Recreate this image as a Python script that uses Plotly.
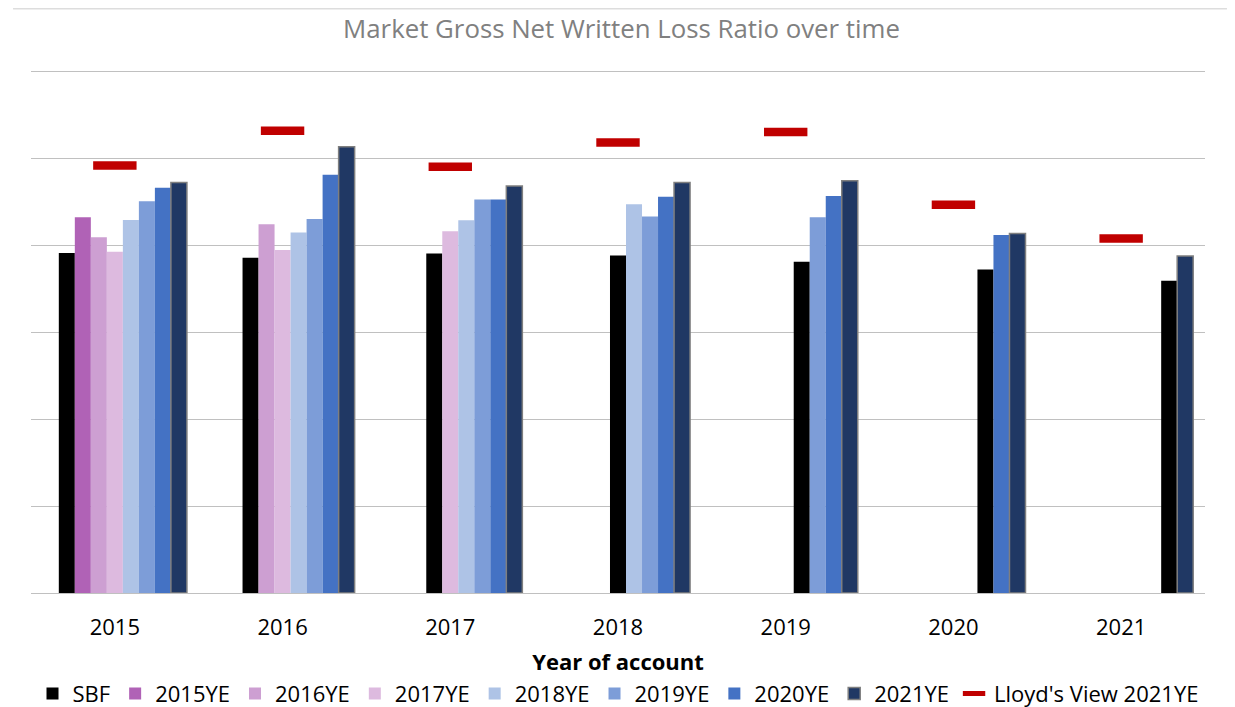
import plotly.graph_objects as go

years = ["2015", "2016", "2017", "2018", "2019", "2020", "2021"]

sbf = [78.2, 77.1, 78.1, 77.6, 76.2, 74.4, 71.8]
ye_2015 = [86.4, None, None, None, None, None, None]
ye_2016 = [81.8, 84.8, None, None, None, None, None]
ye_2017 = [78.5, 78.9, 83.2, None, None, None, None]
ye_2018 = [85.8, 82.9, 85.7, 89.4, None, None, None]
ye_2019 = [90.1, 86.0, 90.5, 86.6, 86.4, None, None]
ye_2020 = [93.2, 96.2, 90.5, 91.1, 91.3, 82.3, None]
ye_2021 = [94.4, 102.6, 93.6, 94.4, 94.8, 82.7, 77.5]
lloyds_view_2021 = [98.3, 106.3, 98.0, 103.6, 106.0, 89.3, 81.5]

ye_series = [
    ("2015YE", 2015, ye_2015, "#B062B6"),
    ("2016YE", 2016, ye_2016, "#CD9FD2"),
    ("2017YE", 2017, ye_2017, "#DDBADF"),
    ("2018YE", 2018, ye_2018, "#AEC3E6"),
    ("2019YE", 2019, ye_2019, "#7D9DD8"),
    ("2020YE", 2020, ye_2020, "#4472C4"),
    ("2021YE", 2021, ye_2021, "#203864"),
]

FONT = "Open Sans"
n_slots = 9
group_frac = 0.8593
w = group_frac / n_slots


def slot_offset(slot):
    return -n_slots / 2 * w + slot * w


fig = go.Figure()

# SBF sits in the slot just before the first year-end of its year of account
sbf_offsets = [slot_offset(int(y) - 2014) for y in years]
fig.add_trace(go.Bar(
    x=years, y=sbf, name="SBF", width=w, offset=sbf_offsets,
    marker=dict(color="#000000", line=dict(width=0)),
))

for name, yr, vals, col in ye_series:
    line = dict(width=1.5, color="#7F7F7F") if yr == 2021 else dict(width=0)
    fig.add_trace(go.Bar(
        x=years, y=vals, name=name, width=w, offset=slot_offset(yr - 2013),
        marker=dict(color=col, line=line),
    ))

fig.add_trace(go.Scatter(
    x=years, y=lloyds_view_2021, name="Lloyd's View 2021YE", mode="markers",
    marker=dict(symbol="line-ew", size=31, color="#C00000",
                line=dict(width=8.5, color="#C00000")),
))

# the page body adds an 8px margin, so the figure is 8px smaller than the window
fig.update_layout(
    width=1227, height=699,
    barmode="overlay",
    paper_bgcolor="white", plot_bgcolor="white",
    margin=dict(l=23, r=30, t=61, b=114, autoexpand=False),
    font=dict(family=FONT, size=22, color="#000000"),
    title=dict(text="Market Gross Net Written Loss Ratio over time",
               x=0.5, xanchor="center", y=0.97, yanchor="middle",
               font=dict(family=FONT, size=25.8, color="#808080")),
    xaxis=dict(type="category", showgrid=False, showline=False, ticks="",
               tickfont=dict(size=22, color="#000000"), ticklabelstandoff=19,
               automargin=False,
               title=dict(text="<b>Year of account</b>", standoff=14,
                          font=dict(size=22, color="#000000"))),
    yaxis=dict(range=[0, 120.5], tickvals=[20, 40, 60, 80, 100, 120],
               showticklabels=False, ticks="",
               showgrid=True, gridcolor="#C0C0C0", gridwidth=1.3,
               zeroline=True, zerolinecolor="#C0C0C0", zerolinewidth=1.3,
               showline=False, automargin=False),
    legend=dict(orientation="h", x=0.5, xanchor="center", y=-0.152, yanchor="top",
                font=dict(size=22, color="#000000"), itemwidth=30,
                traceorder="normal", bgcolor="rgba(0,0,0,0)"),
    shapes=[dict(type="line", xref="paper", yref="paper",
                 x0=-0.0153, x1=1.0187, y0=1.115, y1=1.115,
                 line=dict(color="#DDDDDD", width=1.5))],
    showlegend=True,
)

fig.write_html("out.html")
